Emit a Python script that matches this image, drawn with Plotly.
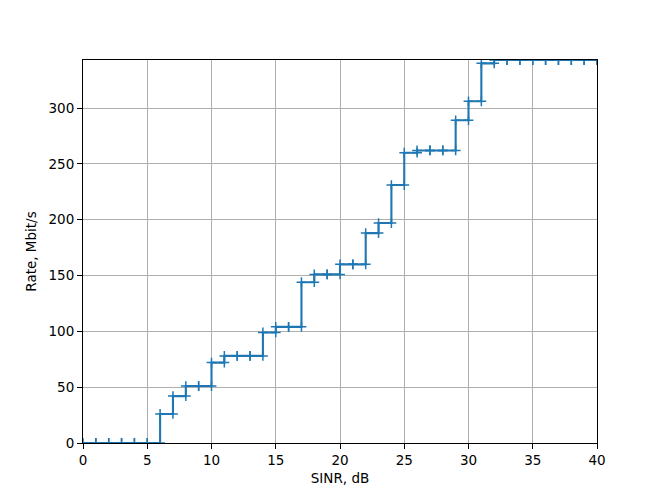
import plotly.graph_objects as go

sinr_db = list(range(0, 41))
rate_mbps = [0, 0, 0, 0, 0, 0, 26, 42, 51, 51,
             72, 78, 78, 78, 99, 104, 104, 144, 151, 151,
             160, 160, 188, 197, 231, 260, 262, 262, 262, 289,
             306, 340, 343, 343, 343, 343, 343, 343, 343, 343, 343]
x_ticks = [0, 5, 10, 15, 20, 25, 30, 35, 40]
y_ticks = [0, 50, 100, 150, 200, 250, 300]

# vertices of the post-step path (markers appear at both ends of each step)
vx, vy = [], []
for i in range(len(sinr_db)):
    if i > 0:
        vx.append(sinr_db[i]); vy.append(rate_mbps[i - 1])
    vx.append(sinr_db[i]); vy.append(rate_mbps[i])

color = "#1f77b4"
fig = go.Figure()
fig.add_trace(go.Scatter(x=sinr_db, y=rate_mbps, mode="lines",
                         line=dict(color=color, width=2.1, shape="hv"),
                         showlegend=False, hoverinfo="skip"))
fig.add_trace(go.Scatter(x=vx, y=vy, mode="markers",
                         marker=dict(symbol="cross-thin", size=7,
                                     line=dict(color=color, width=1.5)),
                         showlegend=False))

axis_common = dict(showline=True, mirror=True, linecolor="black", linewidth=1,
                   showgrid=True, gridcolor="#b0b0b0", gridwidth=1,
                   ticks="outside", ticklen=5, tickwidth=1, tickcolor="black",
                   zeroline=False,
                   tickfont=dict(family="DejaVu Sans", size=13.5, color="black"))

fig.update_xaxes(range=[0, 40], tickvals=x_ticks, ticktext=[str(t) for t in x_ticks],
                 title=dict(text="SINR, dB", font=dict(family="DejaVu Sans", size=13.5, color="black"),
                            standoff=6),
                 **axis_common)
fig.update_yaxes(range=[0, 343], tickvals=y_ticks, ticktext=[str(t) for t in y_ticks],
                 title=dict(text="Rate, Mbit/s", font=dict(family="DejaVu Sans", size=13.5, color="black"),
                            standoff=8),
                 **axis_common)

fig.update_layout(width=664, height=498, paper_bgcolor="white", plot_bgcolor="white",
                  margin=dict(l=75, r=75, t=52, b=63), showlegend=False)

fig.write_html("out.html")
